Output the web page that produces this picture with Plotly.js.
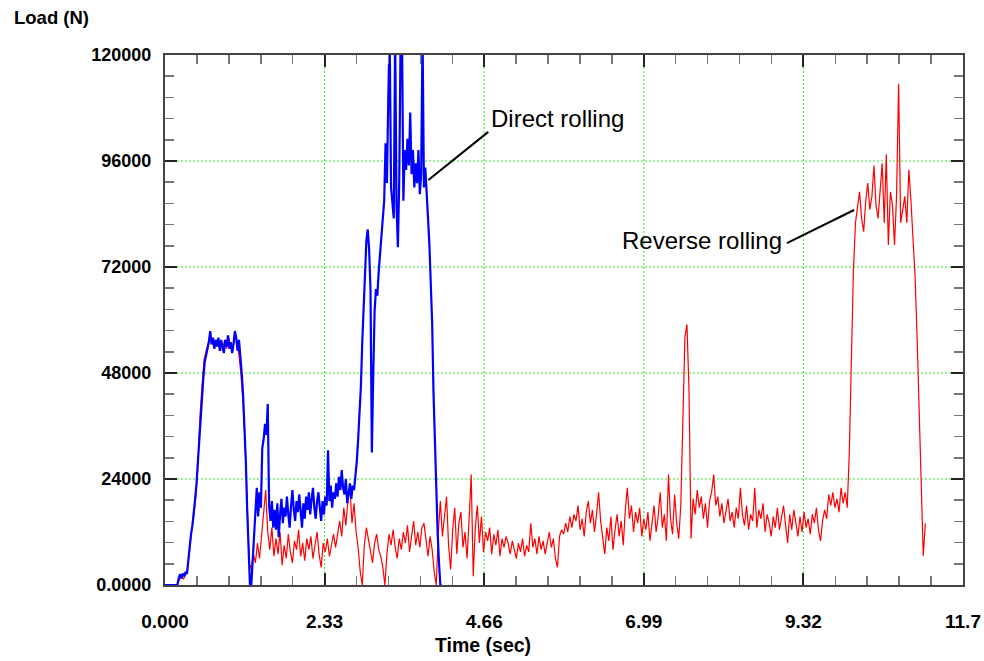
<!DOCTYPE html>
<html>
<head>
<meta charset="utf-8">
<script src="https://cdn.plot.ly/plotly-3.0.1.min.js"></script>
<style>html,body{margin:0;padding:0;background:#fff;}#chart{width:984px;height:661px;}</style>
</head>
<body>
<div id="chart"></div>
<script>
// Sampling of each recorded signal (seconds)
const reverseT0 = 0, reverseDt = 0.03;
const directT0 = 0, directDt = 0.02;

// Reverse rolling load (N), red
const reverseLoad = [
0,0,0,0,0,0,0,1200,1800,1400,
2200,3500,8500,12500,15500,20000,27000,38000,45000,51000,
53000,54500,57000,55000,53500,55500,54000,55000,53000,55500,
53500,56000,54000,53000,57000,55000,52000,47500,41000,32000,
17000,5000,3500,7000,5000,9500,6000,11000,17000,21500,
12000,8000,13000,6500,10500,7000,12000,4500,9000,6000,
11500,7500,5000,10000,8000,12500,6500,9500,5500,10500,
8000,11000,6000,9000,12000,7000,4000,9500,7500,10500,
6500,9000,11500,8500,12000,14500,11000,17500,13500,19000,
22000,14000,18500,12000,8500,3000,0,9000,13000,10000,
7500,5000,9500,11500,8000,6500,4000,0,7000,11500,
9000,12500,8500,6000,10500,8000,12000,9500,13500,7500,
11000,14500,9000,12000,8500,13000,14000,10000,6500,11000,
8000,3000,0,12000,19000,11000,16000,20000,9000,3500,
12500,17500,7000,14000,16500,8500,12000,6000,15000,25000,
2000,13000,18000,9500,15500,7500,12000,10000,13000,7000,
11500,9000,12500,6500,10500,8500,11000,9500,7000,10000,
8000,6000,9500,7500,10500,6500,9000,7500,14000,8500,
10500,7000,11000,8000,10000,7000,9500,12000,8500,10500,
6000,4000,11000,12500,11500,14000,12000,15500,13000,16000,
14500,18000,12500,15000,11000,16500,19000,14000,17000,12000,
16000,21000,14500,11000,7000,13000,10000,15500,8000,12500,
16000,11000,14500,9000,17000,22000,15000,18000,12000,16500,
14000,17500,11000,15000,12500,16500,10000,14000,18000,12000,
15500,21000,13000,16000,10000,25000,15000,11500,20500,14000,
10500,18000,41000,56000,59000,44000,10500,19500,16000,21500,
17500,20000,15000,18500,13000,19000,21000,25000,18000,20000,
15500,18500,14000,17000,19500,14500,16500,13000,17500,15000,
22000,16000,13500,18000,12500,16000,14500,22000,13000,17000,
15000,18500,12000,16000,14000,11000,15500,13000,17500,12500,
15000,18000,13500,9500,16000,12500,17000,14000,11000,15500,
12000,16500,13000,15000,11500,16000,14000,17500,12500,10000,
14500,17000,15000,20500,18000,21000,17500,19500,16500,22000,
18500,21000,17500,30000,50000,71000,82000,86000,89000,83000,
80000,87000,91000,85000,88000,95000,86000,83000,90000,95500,
82000,97500,77000,89000,86000,77000,88000,113500,82000,85000,
88000,82000,94000,87000,78000,70000,56000,41000,24000,6600,
14000
];

// Direct rolling load (N), blue (values above 120000 run off the top of the frame)
const directLoad = [
0,0,0,0,0,0,0,0,0,0,
1500,2500,1500,2600,2000,3000,2500,6000,9500,11500,
13500,16000,19500,23000,28000,33000,38500,43500,47000,50500,
52500,53500,55000,57500,54500,56000,53500,55500,54000,56000,
53000,55500,54000,52500,55500,54000,56500,53500,55000,52500,
54500,57500,56000,53000,55500,52000,48000,43000,36000,28000,
17000,6000,0,0,5000,10000,15000,22000,15500,21000,
17500,31000,33000,36500,34000,41000,18000,14500,19000,13000,
17000,12500,18500,10800,16000,19500,14000,17500,15500,20000,
16000,13000,18000,21500,17000,14500,19000,16500,20500,15500,
13000,18500,15000,20000,17000,21000,16000,19500,22000,17500,
15000,19000,21000,17500,14500,19000,16000,20000,18000,30500,
19000,22500,17500,21000,19500,23000,20000,24500,21500,26000,
22000,20500,24000,18500,21000,23000,19500,22500,21500,24500,
28000,33000,38000,45000,55000,63000,71000,78000,80500,76000,
67000,30000,47500,62000,67000,65500,71000,75000,78000,84000,
87000,100000,91000,110500,125000,90000,87000,83000,125000,86000,
76500,92000,125000,125000,87000,98500,94000,101000,95000,107000,
93000,98500,90000,95500,91000,98500,88500,93000,125000,90000,
94500,87000,83000,77000,70000,59500,43500,31000,20000,12000,
5000,0,0
];

// Axis ticks
const xTickVals = [0, 2.33, 4.66, 6.99, 9.32, 11.65];
const xTickText = ["0.000", "2.33", "4.66", "6.99", "9.32", "11.7"];
const yTickVals = [0, 24000, 48000, 72000, 96000, 120000];
const yTickText = ["0.0000", "24000", "48000", "72000", "96000", "120000"];

// Texts
const xTitle = "Time (sec)";
const yTitle = "Load (N)";
const directLabel = "Direct rolling";
const reverseLabel = "Reverse rolling";

const FONT = "Liberation Sans, Arial, sans-serif";
const GRID_GREEN = "#2ee62e";
const X_MAX = 11.65, Y_MAX = 120000;

const traces = [
  {type: "scatter", mode: "lines", x0: reverseT0, dx: reverseDt, y: reverseLoad,
   line: {color: "#ff0000", width: 1.2}, name: reverseLabel, hoverinfo: "skip"},
  {type: "scatter", mode: "lines", x0: directT0, dx: directDt, y: directLoad,
   line: {color: "#0000ff", width: 2.2}, name: directLabel, hoverinfo: "skip"}
];

// dotted green grid at the inner major ticks
const gridShapes = [];
xTickVals.slice(1, -1).forEach(v => gridShapes.push({
  type: "line", layer: "below", xref: "x", yref: "paper", x0: v, x1: v, y0: 0, y1: 1,
  line: {color: GRID_GREEN, width: 1, dash: "2px,2px"}}));
yTickVals.slice(1, -1).forEach(v => gridShapes.push({
  type: "line", layer: "below", xref: "paper", yref: "y", x0: 0, x1: 1, y0: v, y1: v,
  line: {color: GRID_GREEN, width: 1, dash: "2px,2px"}}));

const axisCommon = {
  tickmode: "array", ticks: "inside", ticklen: 12, tickwidth: 2, tickcolor: "#222",
  showgrid: false, showline: true, linecolor: "#444", linewidth: 2, mirror: "allticks",
  zeroline: false, fixedrange: true
};

const layout = {
  width: 984, height: 661,
  margin: {l: 165, r: 21, t: 55, b: 76},
  paper_bgcolor: "#fff", plot_bgcolor: "#fff",
  showlegend: false,
  font: {family: FONT, color: "#000"},
  xaxis: Object.assign({}, axisCommon, {
    range: [0, X_MAX], tickvals: xTickVals, ticktext: xTickText,
    minor: {tickmode: "linear", dtick: 0.466, tick0: 0, ticks: "inside", ticklen: 9, tickwidth: 1.5, tickcolor: "#777", showgrid: false},
    tickfont: {family: FONT, size: 19, color: "#000", weight: "bold"}, ticklabelstandoff: 18
  }),
  yaxis: Object.assign({}, axisCommon, {
    range: [0, Y_MAX], tickvals: yTickVals, ticktext: yTickText,
    minor: {tickmode: "linear", dtick: 4800, tick0: 0, ticks: "inside", ticklen: 9, tickwidth: 1.5, tickcolor: "#777", showgrid: false},
    tickfont: {family: FONT, size: 18, color: "#000", weight: "bold"}, ticklabelstandoff: 8
  }),
  annotations: [
    {xref: "paper", yref: "paper", x: -0.192, y: 1.07, xanchor: "left", yanchor: "middle",
     text: yTitle, showarrow: false,
     font: {family: FONT, size: 18.5, weight: "bold", color: "#000"}},
    {xref: "paper", yref: "paper", x: 0.3985, y: -0.113, xanchor: "center", yanchor: "middle",
     text: xTitle, showarrow: false,
     font: {family: FONT, size: 19.5, weight: "bold", color: "#000"}},
    {xref: "x", yref: "y", x: 5.73, y: 105700, text: directLabel, showarrow: false,
     font: {family: FONT, size: 24, color: "#000"}},
    {xref: "x", yref: "y", x: 7.835, y: 78100, text: reverseLabel, showarrow: false,
     font: {family: FONT, size: 24, color: "#000"}}
  ],
  shapes: gridShapes.concat([
    {type: "line", xref: "x", yref: "y", x0: 3.845, y0: 91700, x1: 4.72, y1: 102600,
     line: {color: "#000", width: 2}},
    {type: "line", xref: "x", yref: "y", x0: 9.08, y0: 77400, x1: 10.06, y1: 84900,
     line: {color: "#000", width: 2}}
  ])
};

Plotly.newPlot("chart", traces, layout, {staticPlot: true, displayModeBar: false});
</script>
</body>
</html>
